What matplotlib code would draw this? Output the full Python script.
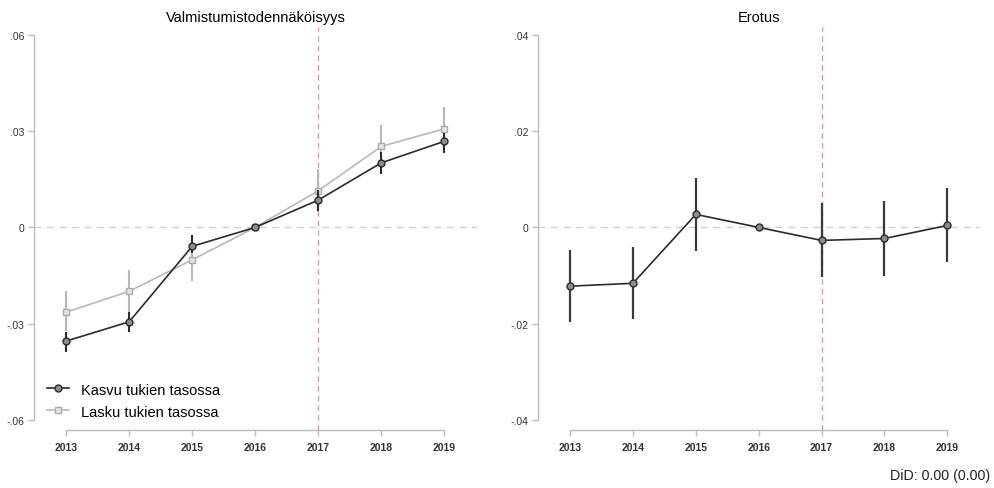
import matplotlib.pyplot as plt

plt.rcParams['font.family'] = ['Liberation Sans', 'DejaVu Sans']

years = [2013, 2014, 2015, 2016, 2017, 2018, 2019]

# Valmistumistodennäköisyys
kasvu = [-0.0354, -0.0294, -0.0059, 0.0, 0.0085, 0.0201, 0.0268]
kasvu_lo = [-0.0387, -0.0327, -0.0081, 0.0, 0.0052, 0.0165, 0.0233]
kasvu_hi = [-0.0325, -0.0263, -0.0024, 0.0, 0.0118, 0.0236, 0.0293]

lasku = [-0.0264, -0.0199, -0.0101, 0.0, 0.0114, 0.0252, 0.0307]
lasku_lo = [-0.0324, -0.0262, -0.0166, 0.0, 0.0049, 0.0194, 0.0237]
lasku_hi = [-0.0198, -0.0133, -0.0065, 0.0, 0.0181, 0.0319, 0.0376]

# Erotus
erotus = [-0.0122, -0.0116, 0.0027, 0.0, -0.0027, -0.0023, 0.0004]
erotus_lo = [-0.0197, -0.0191, -0.0049, 0.0, -0.0102, -0.0100, -0.0072]
erotus_hi = [-0.0047, -0.0040, 0.0103, 0.0, 0.0050, 0.0054, 0.0081]

left_ticks = [-0.06, -0.03, 0, 0.03, 0.06]
left_labels = ['-.06', '-.03', '0', '.03', '.06']
right_ticks = [-0.04, -0.02, 0, 0.02, 0.04]
right_labels = ['-.04', '-.02', '0', '.02', '.04']

DARK = '#2b2b2b'
LIGHT = '#b8b8b8'
AXIS = '#bcbcbc'
PINK = '#e094b4'


def style_axes(ax, ticks, labels):
    for s in ['top', 'right']:
        ax.spines[s].set_visible(False)
    for s in ['left', 'bottom']:
        ax.spines[s].set_color(AXIS)
        ax.spines[s].set_linewidth(1.0)
    ax.spines['left'].set_bounds(ticks[0], ticks[-1])
    ax.spines['bottom'].set_bounds(years[0], years[-1])
    ax.set_xlim(2012.49, 2019.52)
    ax.set_xticks(years)
    ax.set_xticklabels([str(y) for y in years], fontsize=7.5, fontweight='bold')
    ax.set_yticks(ticks)
    ax.set_yticklabels(labels, fontsize=7.5)
    ax.tick_params(axis='both', colors=AXIS, length=4, width=1.0, labelcolor='#333333')
    ax.tick_params(axis='x', pad=5)
    ax.tick_params(axis='y', pad=3)
    ax.axhline(0, color='#d0d0d0', linestyle=(0, (5, 4)), linewidth=1.0, zorder=1)
    ax.axvline(2017, color=PINK, linestyle=(0, (4, 3)), linewidth=1.0, zorder=1)


fig = plt.figure(figsize=(9.95, 4.89), dpi=100)
ax1 = fig.add_axes([0.0342, 0.1192, 0.4452, 0.8235])
ax2 = fig.add_axes([0.5407, 0.1192, 0.4443, 0.8235])

# left panel
style_axes(ax1, left_ticks, left_labels)
ax1.set_ylim(-0.063, 0.0624)
ax1.vlines(years, lasku_lo, lasku_hi, color=LIGHT, linewidth=1.5, zorder=2)
ax1.plot(years, lasku, color=LIGHT, linewidth=1.2, marker='s', markersize=5,
         markerfacecolor='#e4e4e4', markeredgecolor='#aaaaaa', markeredgewidth=1.0,
         zorder=3, label='Lasku tukien tasossa')
ax1.vlines(years, kasvu_lo, kasvu_hi, color=DARK, linewidth=1.5, zorder=4)
ax1.plot(years, kasvu, color=DARK, linewidth=1.2, marker='o', markersize=5,
         markerfacecolor='#8c8c8c', markeredgecolor=DARK, markeredgewidth=1.0,
         zorder=5, label='Kasvu tukien tasossa')
h, l = ax1.get_legend_handles_labels()
ax1.legend(h[::-1], l[::-1], loc='lower left', bbox_to_anchor=(0.0, -0.005), frameon=False,
           fontsize=10.5, handlelength=1.5, handletextpad=0.8, labelspacing=0.55)
ax1.set_title('Valmistumistodennäköisyys', fontsize=10.5, pad=4)

# right panel
style_axes(ax2, right_ticks, right_labels)
ax2.set_ylim(-0.042, 0.0416)
ax2.vlines(years, erotus_lo, erotus_hi, color='#3a3a3a', linewidth=1.6, zorder=2)
ax2.plot(years, erotus, color=DARK, linewidth=1.2, marker='o', markersize=5,
         markerfacecolor='#8c8c8c', markeredgecolor=DARK, markeredgewidth=1.0, zorder=3)
ax2.set_title('Erotus', fontsize=10.5, pad=4)

fig.text(0.995, 0.026, 'DiD: 0.00 (0.00)', ha='right', va='center', fontsize=10.3, color='#222222')

fig.savefig('out.png', dpi=100)
